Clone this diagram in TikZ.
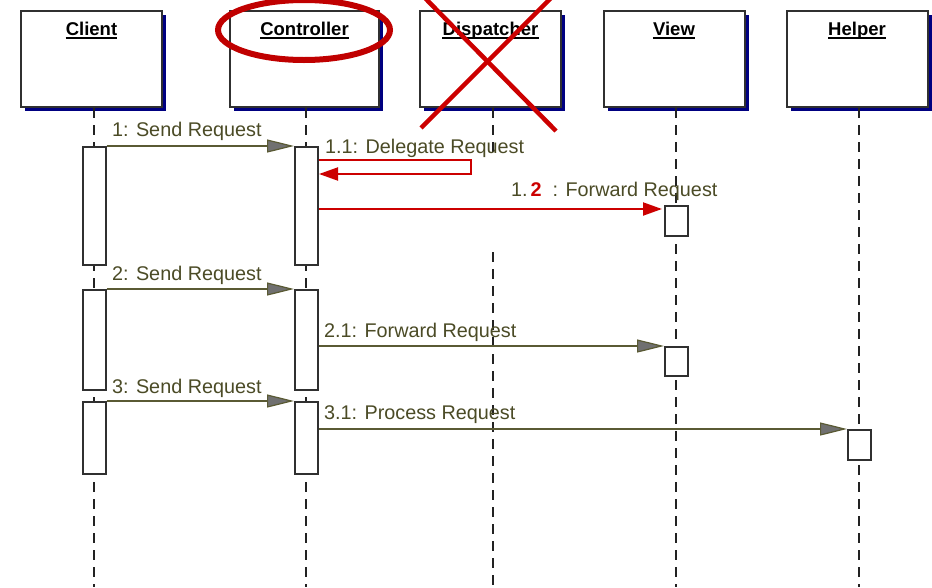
\documentclass[tikz,border=0pt]{standalone}
\usepackage{fontspec}
\setmainfont{Liberation Sans}
\usetikzlibrary{arrows.meta,shadows}

\definecolor{msgtext}{HTML}{4B4B26}
\definecolor{msgline}{HTML}{5A5A34}
\definecolor{tipfill}{HTML}{707070}
\definecolor{navyshadow}{HTML}{000080}
\definecolor{frame}{HTML}{303030}
\definecolor{lifegray}{HTML}{222222}
\definecolor{markred}{HTML}{CC0000}
\definecolor{ringred}{HTML}{C00000}

\tikzset{
  headbox/.style={draw=frame, line width=2pt, fill=white,
    minimum width=141pt, minimum height=96pt, inner sep=0pt,
    drop shadow={shadow xshift=4pt, shadow yshift=-4pt, fill=navyshadow, opacity=1}},
  headtitle/.style={font=\fontsize{18.5}{20}\selectfont\bfseries, inner sep=0pt, anchor=base, text=black},
  lifeline/.style={draw=lifegray, line width=2pt, dash pattern=on 10pt off 7pt},
  actbox/.style={draw=frame, line width=2pt, fill=white, minimum width=23pt, inner sep=0pt, anchor=north},
  msg/.style={draw=msgline, line width=1.6pt,
    -{Triangle[length=27pt,width=13pt,fill=tipfill,line width=1.2pt]}},
  redmsg/.style={draw=markred, line width=2pt,
    -{Triangle[length=19pt,width=13pt,fill=markred]}},
  msglabel/.style={font=\fontsize{19.8}{22}\selectfont, text=msgtext, inner sep=0pt, anchor=base west},
}

\newcommand{\headtitle}[3]{%
  \node[headtitle] (#1) at (#2) {#3\hspace{5pt}};
  \draw[line width=1.8pt] ([yshift=-3pt]#1.base west) -- ([yshift=-3pt]#1.base east);
}

\begin{document}
\begin{tikzpicture}[x=1pt,y=-1pt]
\useasboundingbox[fill=white] (0,0) rectangle (932,587);

% object heads
\node[headbox] (client) at (91.5,59) {};
\node[headbox, minimum width=149pt] (ctrl) at (304.5,59) {};
\node[headbox] (disp)   at (490.5,59) {};
\node[headbox] (view)   at (674,59) {};
\node[headbox] (helper) at (857,59) {};

\headtitle{tclient}{91.5,35}{Client}
\headtitle{tctrl}{304.5,35}{Controller}
\headtitle{tdisp}{490.5,35}{Dispatcher}
\headtitle{tview}{674,35}{View}
\headtitle{thelper}{857,35}{Helper}

% lifelines
\coordinate (clientEnd) at (94,587);
\coordinate (ctrlEnd)   at (306,587);
\coordinate (dispGapA)  at (493,154);
\coordinate (dispGapB)  at (493,252);
\coordinate (dispEnd)   at (493,587);
\coordinate (viewEnd)   at (676,587);
\coordinate (helperEnd) at (859,587);

\draw[lifeline] (client.south -| clientEnd) -- (clientEnd);
\draw[lifeline] (ctrl.south -| ctrlEnd) -- (ctrlEnd);
\draw[lifeline] (disp.south -| dispEnd) -- (dispGapA);
\draw[lifeline] (dispGapB) -- (dispEnd);
\draw[lifeline] (view.south -| viewEnd) -- (viewEnd);
\draw[lifeline] (helper.south -| helperEnd) -- (helperEnd);

% activations
\node[actbox, minimum height=118pt] (c1) at (94,146) {};
\node[actbox, minimum height=100pt] (c2) at (94,289) {};
\node[actbox, minimum height=72pt]  (c3) at (94,401) {};
\node[actbox, minimum height=118pt] (k1) at (306.5,146) {};
\node[actbox, minimum height=100pt] (k2) at (306.5,289) {};
\node[actbox, minimum height=72pt]  (k3) at (306.5,401) {};
\node[actbox, minimum height=30pt]  (v1) at (676.5,205) {};
\node[actbox, minimum height=29pt]  (v2) at (676.5,346) {};
\node[actbox, minimum height=30pt]  (h1) at (859.5,429) {};

% messages
\draw[msg] (c1.north east) -- (k1.north west);
\draw[msg] (c2.north east) -- (k2.north west);
\draw[msg] (c3.north east) -- (k3.north west);

\coordinate (m21) at ([yshift=-57pt]k2.north east);
\draw[msg] (m21) -- (m21 -| v2.west);
\coordinate (m31) at ([yshift=-28pt]k3.north east);
\draw[msg] (m31) -- (m31 -| h1.west);

% self call and forward, drawn in red
\coordinate (selfA) at ([yshift=-14pt]k1.north east);
\coordinate (selfB) at ([yshift=-28pt]k1.north east);
\coordinate (selfTurn) at (471,160);
\draw[redmsg] (selfA) -- (selfA -| selfTurn) |- (selfB);
\coordinate (m12) at ([yshift=-63pt]k1.north east);
\draw[redmsg] (m12) -- ([xshift=-2pt]m12 -| v1.west);

% message labels
\node[msglabel] (l1)  at (112,136) {1: Send Request};
\node[msglabel] (l11) at (325,153) {1.1: Delegate Request};
\node[msglabel] (l12) at (511,196) {1.\hspace{3pt}{\color{markred}\bfseries 2}\hspace{11pt}: Forward Request};
\node[msglabel] (l2)  at (112,280) {2: Send Request};
\node[msglabel] (l21) at (324,337) {2.1: Forward Request};
\node[msglabel] (l3)  at (112,393) {3: Send Request};
\node[msglabel] (l31) at (324,419) {3.1: Process Request};

% red marks
\draw[ringred, line width=6pt] (304,30) ellipse [x radius=86pt, y radius=30pt];
\draw[markred, line width=4.5pt] (421,128) -- (553,-4);
\draw[markred, line width=4.5pt] (423,-4) -- (556,131);
\end{tikzpicture}
\end{document}
